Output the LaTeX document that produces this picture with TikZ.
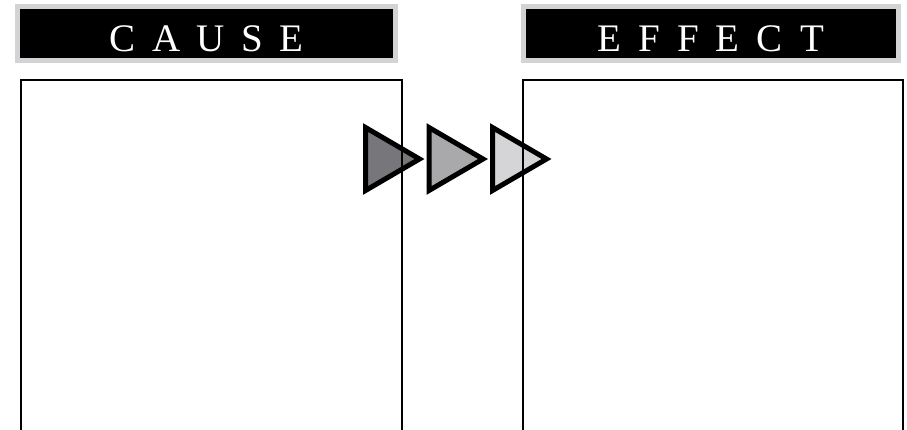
\documentclass[tikz,border=0pt]{standalone}
\usepackage{fontspec}
\usepackage{tikz}
\usetikzlibrary{positioning}
\newfontfamily\headfont{Liberation Serif}
\definecolor{headgray}{HTML}{D3D3D5}
\definecolor{tridark}{HTML}{77777B}
\definecolor{trimid}{HTML}{A9A9AC}
\definecolor{trilight}{HTML}{D5D5D7}

\begin{document}
\begin{tikzpicture}[
    x=1pt, y=-1pt,
    head/.style={draw=headgray, line width=5pt, fill=black, inner sep=0pt, minimum height=54pt},
    headtext/.style={anchor=base, text=white, inner sep=0pt, font=\headfont\fontsize{39}{42}\selectfont},
    panel/.style={draw, line width=2pt, anchor=north west, inner sep=0pt, minimum width=381pt, minimum height=370pt},
    tri/.style={draw, line width=5pt, line join=miter}
]
\useasboundingbox (0,0) rectangle (907,430);
\clip (0,0) rectangle (907,430);

\node[head, minimum width=378pt] (causehead) at (206.5,33.5) {};
\node[head, minimum width=375pt] (effecthead) at (710.5,33.5) {};
\node[headtext] (causetext) at (206.5,52) {C\kern.42em A\kern.42em U\kern.42em S\kern.42em E};
\node[headtext] (effecttext) at (710.5,52) {E\kern.44em F\kern.44em F\kern.44em E\kern.44em C\kern.44em T};

\foreach \i/\c in {0/tridark,1/trimid,2/trilight}
    \draw[tri, fill=\c, xshift=63.5*\i] (365.5,127.5) -- (419.5,159) -- (365.5,190.5) -- cycle;

\node[panel] (causebox) at (20,79) {};
\node[panel, minimum width=380pt] (effectbox) at (522,79) {};
\end{tikzpicture}
\end{document}
